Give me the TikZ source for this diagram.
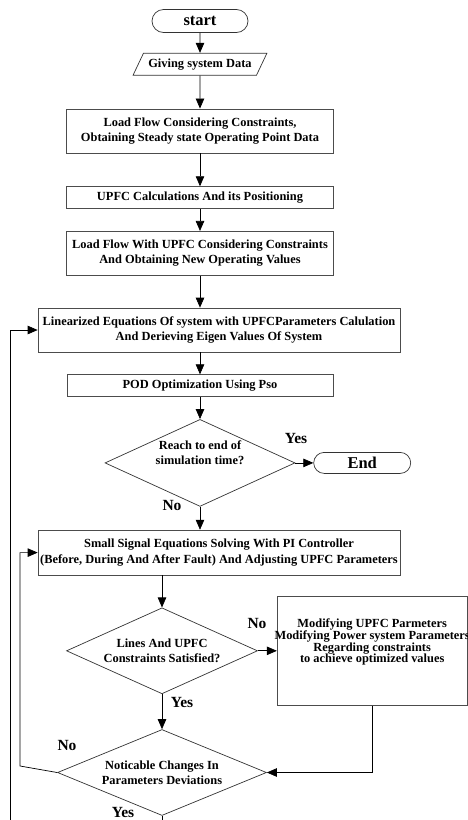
\documentclass[tikz,border=0pt]{standalone}
\usepackage{fontspec}
\setmainfont{Liberation Serif}
\usetikzlibrary{arrows.meta,positioning,shapes.geometric,shapes.misc}

\begin{document}
\begin{tikzpicture}[x=1pt,y=-1pt,
  box/.style={draw=black!70,line width=0.7pt,align=center,inner xsep=2pt,inner ysep=0pt,
    minimum width=267pt,minimum height=44pt,font=\fontsize{12.4}{15.5}\selectfont\bfseries},
  widebox/.style={minimum width=362pt},
  flatbox/.style={minimum height=22pt},
  term/.style={draw=black!80,line width=0.7pt,rounded rectangle,minimum width=96pt,
    minimum height=23pt,inner sep=0pt,font=\fontsize{16.5}{18}\selectfont\bfseries},
  io/.style={draw=black!80,line width=0.7pt,trapezium,trapezium left angle=50,
    trapezium right angle=130,trapezium stretches=true,minimum width=134pt,
    minimum height=22pt,inner sep=0pt,font=\fontsize{12.4}{15}\selectfont\bfseries},
  dec/.style={draw=black!80,line width=0.7pt,diamond,aspect=2.3,inner sep=0pt,align=center,
    font=\fontsize{12.4}{14.5}\selectfont\bfseries},
  lbl/.style={font=\fontsize{15.5}{16}\selectfont\bfseries},
  every path/.style={line width=0.7pt},
  >={Triangle[length=10pt,width=8.5pt]}]
\useasboundingbox (0,0) rectangle (468,820);

% main column
\node[term] (start) at (200,21) {start};
\node[io,below=20pt of start] (data) {Giving system Data};
\node[box,below=33pt of data] (lf1) {Load Flow Considering Constraints,\\Obtaining Steady state Operating Point Data};
\node[box,flatbox,below=33pt of lf1] (upfc) {UPFC Calculations And its Positioning};
\node[box,below=22pt of upfc] (lf2) {Load Flow With UPFC Considering Constraints\\And Obtaining New Operating Values};
\node[box,widebox,below=32pt of lf2,xshift=19pt] (lin) {Linearized Equations Of system with UPFCParameters Calulation\\And Derieving Eigen Values Of System};
\node[box,flatbox,below=22pt of lin,xshift=-19pt,minimum width=266pt] (pod) {POD Optimization Using Pso};
\node[dec,below=22pt of pod,minimum width=190pt,minimum height=87pt] (d1) {Reach to end of\\simulation time?\\[6pt]};
\node[term,right=18pt of d1,minimum width=97pt,minimum height=21pt] (end) {End};
\node[box,widebox,below=23pt of d1,xshift=19pt,minimum height=45pt] (ss) {Small Signal Equations Solving With PI Controller\\(Before, During And After Fault) And Adjusting UPFC Parameters};
\node[dec,below=32pt of ss,xshift=-57pt,minimum width=191pt,minimum height=86pt] (d2) {Lines And UPFC\\Constraints Satisfied?};
\node[box,right=19pt of d2,minimum width=190pt,minimum height=109pt,font=\fontsize{12.4}{11.8}\selectfont\bfseries] (mod) {Modifying UPFC Parmeters\\\makebox[150pt][c]{Modifying Power system Parameters}\\Regarding constraints\\to achieve optimized values\\[8pt]};
\node[dec,below=35pt of d2,minimum width=209pt,minimum height=86pt] (d3) {Noticable Changes In\\Parameters Deviations};

% free ends of the loops
\coordinate (innerx) at (20,766);
\coordinate (outerx) at (10,820);

% labels
\node[lbl] (yes1) at (296,438) {Yes};
\node[lbl] (no1) at (172,505) {No};
\node[lbl] (no2) at (257,623) {No};
\node[lbl] (yes2) at (182,702) {Yes};
\node[lbl] (no3) at (67,745) {No};
\node[lbl] (yes3) at (123,812) {Yes};

% connectors
\draw[->] (start) -- (data);
\draw[->] (data) -- (lf1);
\draw[->] (lf1) -- (upfc);
\draw[->] (upfc) -- (lf2);
\draw[->] (lf2) -- (lf2 |- lin.north);
\draw[->] (pod |- lin.south) -- (pod);
\draw[->] (pod) -- (d1);
\draw[->] (d1) -- (end);
\draw[->] (d1) -- (d1 |- ss.north);
\draw[->] (d2 |- ss.south) -- (d2);
\draw[->] (d2) -- (mod);
\draw[->] (d2) -- (d3);
\draw[->] (mod.south) |- (d3.east);
\draw[->] (d3.west) -- (innerx) |- (ss.west);
\draw (d3.south) -- (d3 |- outerx);
\draw[->] (outerx) |- (lin.west);
\end{tikzpicture}
\end{document}
